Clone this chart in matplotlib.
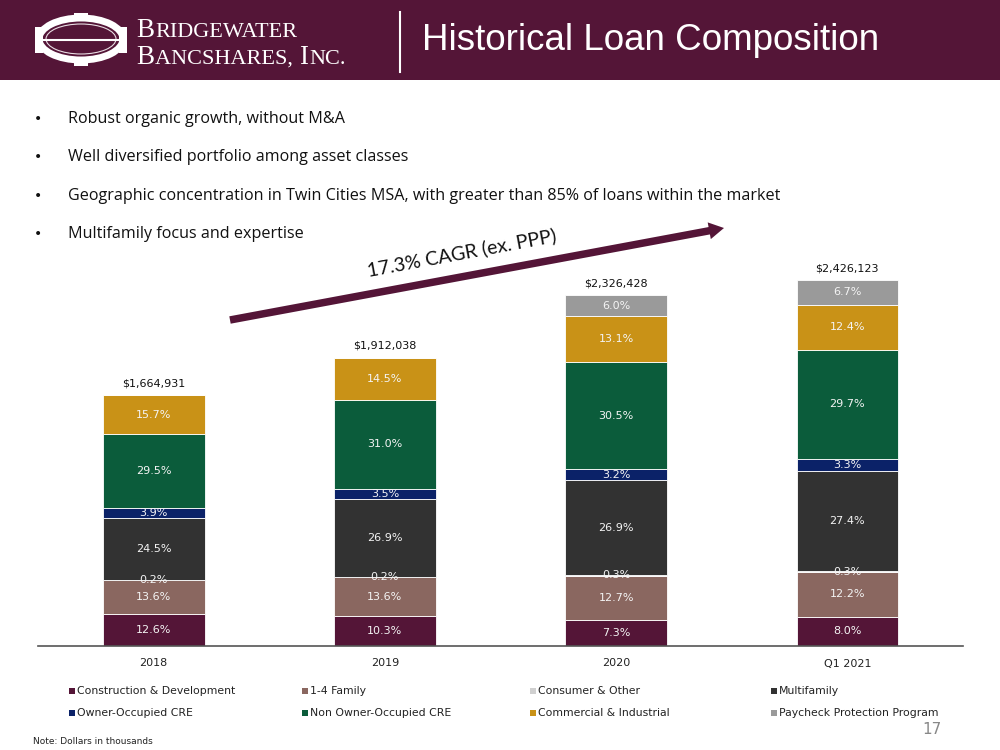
import matplotlib
matplotlib.use("Agg")
import matplotlib.pyplot as plt
from matplotlib.patches import Rectangle, FancyArrow, Ellipse
import numpy as np

# ---------------- data ----------------
periods = ["2018", "2019", "2020", "Q1 2021"]
totals = [1664931, 1912038, 2326428, 2426123]
total_labels = ["$1,664,931", "$1,912,038", "$2,326,428", "$2,426,123"]
series_names = ["Construction & Development", "1-4 Family", "Consumer & Other", "Multifamily",
                "Owner-Occupied CRE", "Non Owner-Occupied CRE", "Commercial & Industrial",
                "Paycheck Protection Program"]
construction = [12.6, 10.3, 7.3, 8.0]
family_1_4 = [13.6, 13.6, 12.7, 12.2]
consumer = [0.2, 0.2, 0.3, 0.3]
multifamily = [24.5, 26.9, 26.9, 27.4]
owner_cre = [3.9, 3.5, 3.2, 3.3]
non_owner_cre = [29.5, 31.0, 30.5, 29.7]
commercial = [15.7, 14.5, 13.1, 12.4]
ppp = [0.0, 0.0, 6.0, 6.7]
bullets = ["Robust organic growth, without M&A",
           "Well diversified portfolio among asset classes",
           "Geographic concentration in Twin Cities MSA, with greater than 85% of loans within the market",
           "Multifamily focus and expertise"]
title = "Historical Loan Composition"
cagr_text = "17.3% CAGR (ex. PPP)"
note = "Note: Dollars in thousands"
page = "17"

series = [construction, family_1_4, consumer, multifamily, owner_cre, non_owner_cre, commercial, ppp]
colors = ["#541537", "#8a6760", "#d0d0d0", "#323232", "#0b2268", "#0b5c3b", "#c99217", "#9a9a9a"]

MAROON = "#541537"
W, H = 1000, 750
fig = plt.figure(figsize=(10, 7.5), dpi=100)
fig.patch.set_facecolor("white")

def fx(px):
    return px / W

def fy(py):
    return 1 - py / H

# overlay axes in pixel coordinates (1 unit = 1 px in both directions)
ov = fig.add_axes([0, 0, 1, 1], zorder=5)
ov.set_xlim(0, W)
ov.set_ylim(H, 0)
ov.axis("off")
ov.patch.set_alpha(0)

# ---------------- header ----------------
ov.add_patch(Rectangle((0, 0), W, 80, facecolor=MAROON, edgecolor="none", zorder=0))
# logo emblem
ov.add_patch(Ellipse((81, 39), 84, 42, facecolor="none", edgecolor="white", lw=5))
ov.add_patch(Ellipse((81, 39), 70, 30, facecolor="none", edgecolor="#e8dde3", lw=0.8))
ov.plot([40, 122], [40, 40], color="white", lw=1.5)
for xx in (39, 123):
    ov.add_patch(Rectangle((xx - 4, 27), 8, 26, facecolor="white", edgecolor="none"))
for yy in (17, 62):
    ov.add_patch(Rectangle((74, yy - 4), 14, 8, facecolor="white", edgecolor="none"))

r = fig.canvas.get_renderer()

def draw_sc(x, y, parts):
    cx = x
    for txt, size in parts:
        t = ov.text(cx, y, txt, color="white", fontsize=size, family="Liberation Serif",
                    va="baseline", ha="left")
        bb = t.get_window_extent(renderer=r)
        cx += bb.width + 0.8

draw_sc(136, 37, [("B", 19.5), ("RIDGEWATER", 16)])
draw_sc(136, 64, [("B", 19.5), ("ANCSHARES, ", 16), ("I", 19.5), ("NC.", 16)])

ov.plot([400, 400], [12, 72], color="white", lw=1.5)
ov.text(422, 41, title, color="white", fontsize=26.5, family="Liberation Sans",
        va="center", ha="left")

# ---------------- bullets ----------------
for i, b in enumerate(bullets):
    yy = 119 + i * 38.3
    ov.text(38, yy, "\u2022", fontsize=10, family="DejaVu Sans", va="center", ha="center", color="#111111")
    ov.text(68, yy, b, fontsize=11.6, family="Open Sans", va="center", color="#111111")

# ---------------- chart ----------------
base_px = 646
px_per_unit = 251 / 1664931
top_px = 260
ax = fig.add_axes([fx(38), fy(base_px), fx(963) - fx(38), (base_px - top_px) / H], zorder=2)
ax.set_xlim(-0.5, 3.5)
ax.set_ylim(0, (base_px - top_px) / px_per_unit)
x = np.arange(len(periods))
bottom = np.zeros(len(periods))
tot = np.array(totals, dtype=float)
for vals, c in zip(series, colors):
    h = tot * np.array(vals) / 100.0
    ax.bar(x, h, 0.44, bottom=bottom, color=c, edgecolor="white", linewidth=0.6, zorder=2)
    for xi, hi, bi, v in zip(x, h, bottom, vals):
        if v > 0:
            ax.text(xi, bi + hi / 2, f"{v:.1f}%", ha="center", va="center", fontsize=8,
                    family="DejaVu Sans", color="#f4f4f4", zorder=3)
    bottom += h
for xi, t, lab in zip(x, tot, total_labels):
    ax.text(xi, t + 12 / px_per_unit, lab, ha="center", va="center", fontsize=8,
            family="DejaVu Sans", color="#111111")
ax.set_xticks(x)
ax.set_xticklabels(periods, fontsize=8, family="DejaVu Sans", color="#222222")
ax.tick_params(axis="x", length=0, pad=9)
ax.set_yticks([])
for s in ("top", "right", "left"):
    ax.spines[s].set_visible(False)
ax.spines["bottom"].set_color("#555555")
ax.spines["bottom"].set_linewidth(1.2)

# ---------------- legend (manual) ----------------
col_x = [70, 303, 531, 772]
row_y = [691, 713]
for i, (name, c) in enumerate(zip(series_names, colors)):
    rr, cc = divmod(i, 4)
    xx, yy = col_x[cc], row_y[rr]
    ov.add_patch(Rectangle((xx - 1, yy - 3), 6, 6, facecolor=c, edgecolor="none"))
    ov.text(xx + 7, yy, name, fontsize=7.8, family="DejaVu Sans",
            va="center", ha="left", color="#222222")

# ---------------- CAGR arrow ----------------
x0, y0, x1, y1 = 230, 320, 724, 228
ov.add_patch(FancyArrow(x0, y0, x1 - x0, y1 - y0, width=7.5, head_width=17, head_length=15,
                        length_includes_head=True, facecolor=MAROON, edgecolor="none"))
ang = np.degrees(np.arctan2((y0 - y1), (x1 - x0)))
ov.text(462, 253, cagr_text, rotation=ang, rotation_mode="anchor",
        fontsize=14, family="Lato", ha="center", va="center", color="#111111")

# ---------------- footer ----------------
ov.text(33, 741, note, fontsize=6.5, family="DejaVu Sans", va="center", color="#222222")
ov.text(942, 730, page, fontsize=11, family="DejaVu Sans", va="center",
        ha="right", color="#888888")

fig.savefig("out.png", dpi=100)
